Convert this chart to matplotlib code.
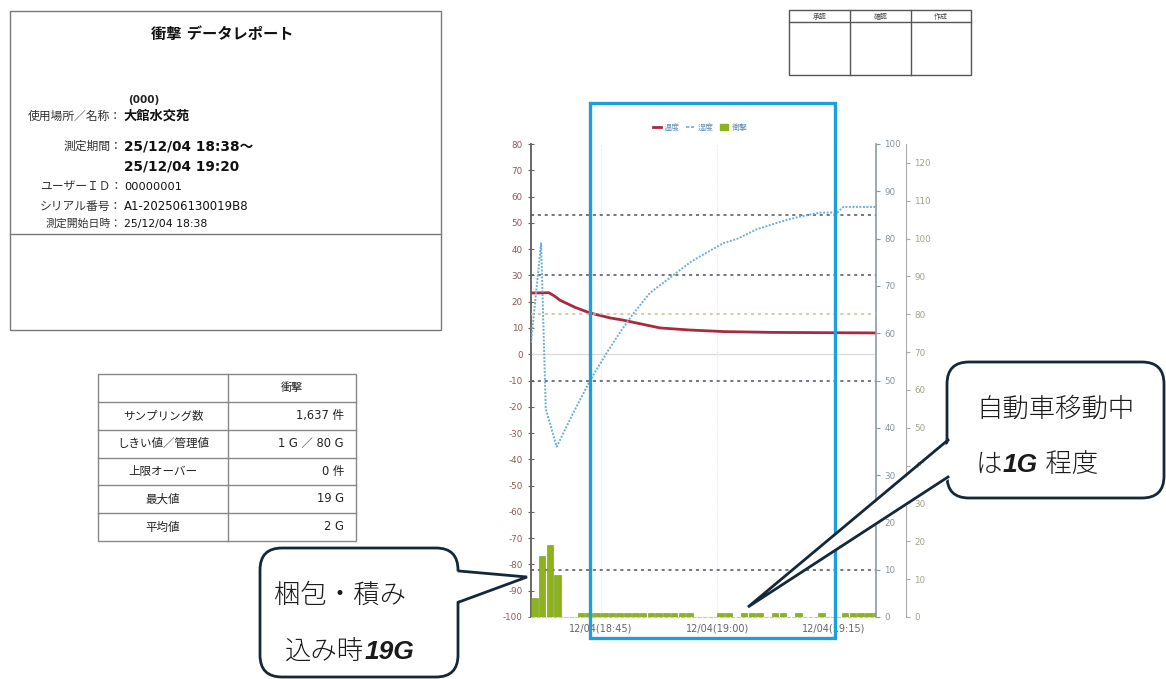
import matplotlib
matplotlib.use("Agg")
import matplotlib.pyplot as plt
from matplotlib.patches import Rectangle, FancyBboxPatch, Polygon, Patch
from matplotlib.lines import Line2D

plt.rcParams['font.family'] = ['DejaVu Sans', 'Noto Sans CJK JP']
plt.rcParams['axes.unicode_minus'] = False

W, H = 1166, 679

# time is minutes after 18:00
temp_t = [36.0, 38.3, 39.1, 39.7, 41.7, 43.6, 46.2, 47.8, 52.6, 56.5, 60.9, 67.2, 80.4]
temp_v = [23.3, 23.4, 22.0, 20.6, 17.8, 15.7, 13.8, 13.0, 10.0, 9.2, 8.6, 8.3, 8.1]

hum_t = [36.0, 37.3, 37.9, 39.3, 41.4, 43.6, 45.8, 47.8, 49.1, 51.3, 54.1, 56.5,
         57.5, 60.7, 62.6, 65.1, 68.0, 70.2, 73.2, 75.4, 76.2, 80.4]
hum_v = [58, 79, 44, 36, 43, 50, 56, 61, 64, 68.5, 72, 75,
         76, 79, 80, 82, 83.5, 84.5, 85.5, 85.5, 86.7, 86.7]

shock_t = list(range(36, 81))
shock_v = ([5, 16, 19, 11, 0, 0] + [1] * 15 +
           [0, 0, 0, 1, 1, 0, 1, 1, 1, 0, 1, 1, 0, 1, 0, 0, 1, 0, 0, 1, 1, 1, 1, 1])

temp_limits = [30, -10]
hum_limits = [85, 10]
shock_limit = 80

x_ticks = [45, 60, 75]
x_labels = ["12/04(18:45)", "12/04(19:00)", "12/04(19:15)"]
legend_labels = ["温度", "湿度", "衝撃"]

info_labels = ["使用場所／名称：", "測定期間：", "ユーザーＩＤ：", "シリアル番号：", "測定開始日時："]
info_values = ["大館水交苑", "25/12/04 18:38～", "00000001", "A1-202506130019B8", "25/12/04 18:38"]

table_labels = ["サンプリング数", "しきい値／管理値", "上限オーバー", "最大値", "平均値"]
table_values = ["1,637 件", "1 G ／ 80 G", "0 件", "19 G", "2 G"]
stamp_labels = ["承認", "確認", "作成"]

RED = '#a82a3c'
BLUE = '#6aaed8'
GREEN = '#8db31c'
DASH = '#4a5262'
NAVY = '#13293a'

fig = plt.figure(figsize=(W / 100, H / 100), dpi=100)

# ---- chart ----
ax = fig.add_axes([531 / W, 1 - 617 / H, 345 / W, 473 / H])
ax2 = ax.twinx()
ax3 = ax.twinx()

ax.set_xlim(36.0, 80.4)
ax.set_ylim(-100, 80)
ax2.set_ylim(0, 100)
ax3.set_ylim(0, 125)

ax.set_xticks(x_ticks)
ax.set_xticklabels(x_labels, fontsize=7, color='#666666')
ax.set_yticks(range(-100, 81, 10))
ax.tick_params(axis='y', labelsize=6.3, labelcolor='#8a5a58', color='#666666',
               direction='inout', length=4, pad=4)
ax.tick_params(axis='x', length=0, pad=5)
ax.grid(axis='x', color='#e8e8e8', lw=0.8, ls=(0, (1, 1)))
ax.set_axisbelow(True)

ax2.set_yticks(range(0, 101, 10))
ax2.tick_params(axis='y', labelsize=6.3, labelcolor='#8794a0', color='#8899aa',
                direction='out', length=3, pad=3)
ax3.set_yticks(range(0, 121, 10))
ax3.tick_params(axis='y', labelsize=6.3, labelcolor='#a2a28c', color='#aaaaaa',
                direction='out', length=3, pad=3)
ax3.spines['right'].set_position(('axes', 1 + 30 / 345))

for a in (ax, ax2, ax3):
    a.spines['top'].set_visible(False)
ax.spines['right'].set_visible(False)
ax.spines['left'].set_color('#666666')
ax.spines['left'].set_linewidth(1.4)
ax.spines['bottom'].set_color('#c8c8c8')
ax.spines['bottom'].set_linestyle((0, (3, 2)))
for a in (ax2, ax3):
    a.spines['left'].set_visible(False)
    a.spines['bottom'].set_visible(False)
ax2.spines['right'].set_color('#8a9aaa')
ax2.spines['right'].set_linewidth(1.2)
ax3.spines['right'].set_color('#aaaaaa')

ax.axhline(0, color='#dddddd', lw=1)
for v in temp_limits:
    ax.axhline(v, color=DASH, lw=1.1, ls=(0, (2, 2.5)))
for v in hum_limits:
    ax2.axhline(v, color=DASH, lw=1.1, ls=(0, (2, 2.5)))
ax3.axhline(shock_limit, color='#cbbd98', lw=1.1, ls=(0, (2, 2.5)))

ax3.bar(shock_t, shock_v, width=0.85, align='edge', color=GREEN,
        edgecolor='#74941a', lw=0.4)
ax.plot(temp_t, temp_v, color=RED, lw=2)
ax2.plot(hum_t, hum_v, color=BLUE, lw=1.4, ls=(0, (1, 0.8)))

handles = [Line2D([], [], color=RED, lw=2),
           Line2D([], [], color=BLUE, lw=1.2, ls=(0, (2, 1))),
           Patch(color=GREEN)]
ax.legend(handles, legend_labels, loc='lower center', bbox_to_anchor=(0.49, 1.01),
          ncol=3, frameon=False, fontsize=5.8, handlelength=1.0, handleheight=0.8,
          columnspacing=0.8, handletextpad=0.4, labelcolor='#5f8fb5')

# ---- overlay in pixel coordinates ----
ov = fig.add_axes([0, 0, 1, 1])
ov.set_xlim(0, W)
ov.set_ylim(H, 0)
ov.axis('off')
ov.set_zorder(10)

# report header box
ov.add_patch(Rectangle((10, 11), 431, 319, fill=False, ec='#7a7a7a', lw=1))
ov.plot([10, 441], [234, 234], color='#7a7a7a', lw=1)
ov.text(222, 35, "衝撃 データレポート", ha='center', va='center', fontsize=11,
        weight='bold', color='#111111')
ov.text(128, 100, "(000)", ha='left', va='center', fontsize=7.5, weight='bold', color='#222222')

label_y = [116, 146, 187, 206, 224]
value_style = [(9.5, 'bold'), (9.8, 'bold'), (8.2, 'normal'), (8.5, 'normal'), (7.8, 'normal')]
for lab, val, y, (fs, wt) in zip(info_labels, info_values, label_y, value_style):
    lfs = 7.8 if lab.startswith("測定開始") else 8.5
    ov.text(122, y, lab, ha='right', va='center', fontsize=lfs, color='#333333')
    ov.text(124, y, val, ha='left', va='center', fontsize=fs, weight=wt, color='#111111')
ov.text(124, 166, "25/12/04 19:20", ha='left', va='center', fontsize=9.8,
        weight='bold', color='#111111')

# stats table
row_edges = [374, 402, 430, 458, 485, 513, 541]
ov.add_patch(Rectangle((98, 374), 258, 167, fill=False, ec='#888888', lw=1))
for y in row_edges[1:-1]:
    ov.plot([98, 356], [y, y], color='#888888', lw=1)
ov.plot([228, 228], [374, 541], color='#888888', lw=1)
ov.text(292, (row_edges[0] + row_edges[1]) / 2, "衝撃", ha='center', va='center',
        fontsize=8, color='#222222')
for i, (lab, val) in enumerate(zip(table_labels, table_values)):
    yc = (row_edges[i + 1] + row_edges[i + 2]) / 2
    ov.text(163, yc, lab, ha='center', va='center', fontsize=8.3, color='#222222')
    ov.text(344, yc, val, ha='right', va='center', fontsize=8.3, color='#222222')

# stamp box
ov.add_patch(Rectangle((789, 10), 182, 65, fill=False, ec='#555555', lw=1))
ov.plot([789, 971], [22, 22], color='#555555', lw=1)
for x in (850, 911):
    ov.plot([x, x], [10, 75], color='#555555', lw=1)
for x, s in zip((819.5, 880.5, 941), stamp_labels):
    ov.text(x, 16, s, ha='center', va='center', fontsize=5, color='#444444')

# highlight frame
ov.add_patch(Rectangle((590, 103), 245, 535, fill=False, ec='#1a9fe0', lw=2.4))


def callout(x0, y0, w, h, b1, b2, tip, inward):
    ov.add_patch(FancyBboxPatch((x0, y0), w, h, boxstyle="round,pad=0,rounding_size=22",
                                fc='white', ec=NAVY, lw=2))
    ov.add_patch(Polygon([(b1[0] + inward, b1[1]), tip, (b2[0] + inward, b2[1])],
                         closed=True, fc='white', ec='none'))
    ov.plot([b1[0], tip[0], b2[0]], [b1[1], tip[1], b2[1]], color=NAVY, lw=2,
            solid_joinstyle='miter')


jp = ['Liberation Sans', 'Noto Sans CJK JP']


def mixed(x, y, parts):
    prev = None
    for s, wt in parts:
        if prev is None:
            prev = ov.text(x, y, s, ha='left', va='bottom', fontsize=19, family=jp,
                           style='italic', weight=wt, color='#1a1a1a')
        else:
            prev = ov.annotate(s, xy=(1, 0), xycoords=prev, ha='left', va='bottom',
                               fontsize=19, family=jp, style='italic', weight=wt,
                               color='#1a1a1a')


callout(260, 548, 198, 129, (459, 571), (459, 602), (527, 577), -4)
mixed(274, 608, [("梱包・積み", 'light')])
mixed(285, 664, [("込み時", 'light'), ("19G", 'bold')])

callout(947, 362, 217, 136, (948, 440), (948, 477), (748, 607), 4)
mixed(976, 422, [("自動車移動中", 'light')])
mixed(976, 477, [("は", 'light'), ("1G", 'bold'), (" 程度", 'light')])

fig.savefig("out.png", dpi=100, facecolor='white')
